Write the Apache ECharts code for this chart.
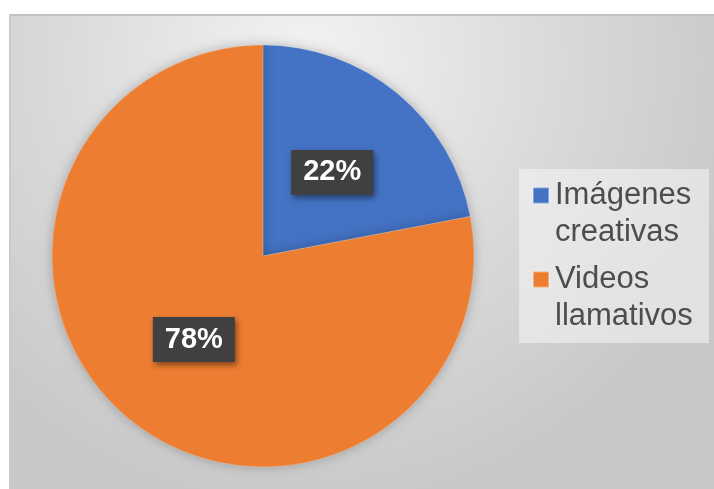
<!DOCTYPE html>
<html>
<head>
<meta charset="utf-8">
<script src="https://cdn.jsdelivr.net/npm/echarts@6/dist/echarts.min.js"></script>
<style>
  html, body { margin: 0; padding: 0; background: #ffffff; }
  #chart { width: 714px; height: 489px; }
</style>
</head>
<body>
<div id="chart"></div>
<script>
// Share of responses per content type (percent)
const categories = ['Imágenes creativas', 'Videos llamativos'];
const values = [22, 78];
const sliceColors = ['#4472C4', '#ED7D31'];

const FONT = '"Liberation Sans", Arial, sans-serif';
const LEGEND_LH = 37;

const chart = echarts.init(document.getElementById('chart'), null, { renderer: 'canvas' });

chart.setOption({
  animation: false,
  backgroundColor: '#ffffff',
  color: sliceColors,
  graphic: [
    {
      // chart area with a soft radial grey fill
      type: 'rect',
      z: -10,
      silent: true,
      shape: { x: 9, y: 14, width: 705, height: 475 },
      style: {
        fill: {
          type: 'radial', x: 0.42, y: 0.1, r: 0.95,
          colorStops: [
            { offset: 0, color: '#f3f3f3' },
            { offset: 0.55, color: '#dadada' },
            { offset: 1, color: '#c8c8c8' }
          ]
        }
      }
    },
    {
      type: 'rect', z: -9, silent: true,
      shape: { x: 9, y: 14, width: 705, height: 2 },
      style: { fill: '#c2c2c2' }
    },
    {
      type: 'rect', z: -9, silent: true,
      shape: { x: 9, y: 14, width: 2, height: 475 },
      style: { fill: '#cacaca' }
    },
    {
      // legend panel
      type: 'rect', z: -8, silent: true,
      shape: { x: 519, y: 169, width: 190, height: 174 },
      style: { fill: 'rgba(245,245,245,0.55)' }
    }
  ],
  legend: {
    orient: 'vertical',
    left: 532,
    top: 140,
    padding: 0,
    itemWidth: 16,
    itemHeight: 16,
    itemGap: -27,
    icon: 'rect',
    selectedMode: false,
    data: categories,
    // a leading blank line keeps the first text line level with the swatch
    formatter: function (name) { return '\n' + name.replace(' ', '\n'); },
    textStyle: {
      fontFamily: FONT,
      fontSize: 31,
      color: '#4d4d4d',
      lineHeight: LEGEND_LH,
      padding: [0, 0, 0, 1]
    }
  },
  series: [
    {
      type: 'pie',
      center: [263, 256],
      radius: 211,
      startAngle: 90,
      clockwise: true,
      avoidLabelOverlap: false,
      silent: true,
      itemStyle: {
        borderColor: 'rgba(255,255,255,0.35)',
        borderWidth: 0.6,
        shadowBlur: 12,
        shadowColor: 'rgba(0,0,0,0.25)'
      },
      label: {
        show: true,
        position: 'inside',
        formatter: '{c}%',
        fontFamily: FONT,
        fontSize: 29,
        fontWeight: 'bold',
        color: '#ffffff',
        backgroundColor: '#404040',
        padding: [8, 12, 8, 12],
        shadowBlur: 6,
        shadowColor: 'rgba(0,0,0,0.45)',
        shadowOffsetX: 2,
        shadowOffsetY: 3
      },
      labelLine: { show: false },
      emphasis: { disabled: true },
      data: categories.map(function (name, i) {
        return { name: name, value: values[i] };
      })
    }
  ]
});
</script>
</body>
</html>
